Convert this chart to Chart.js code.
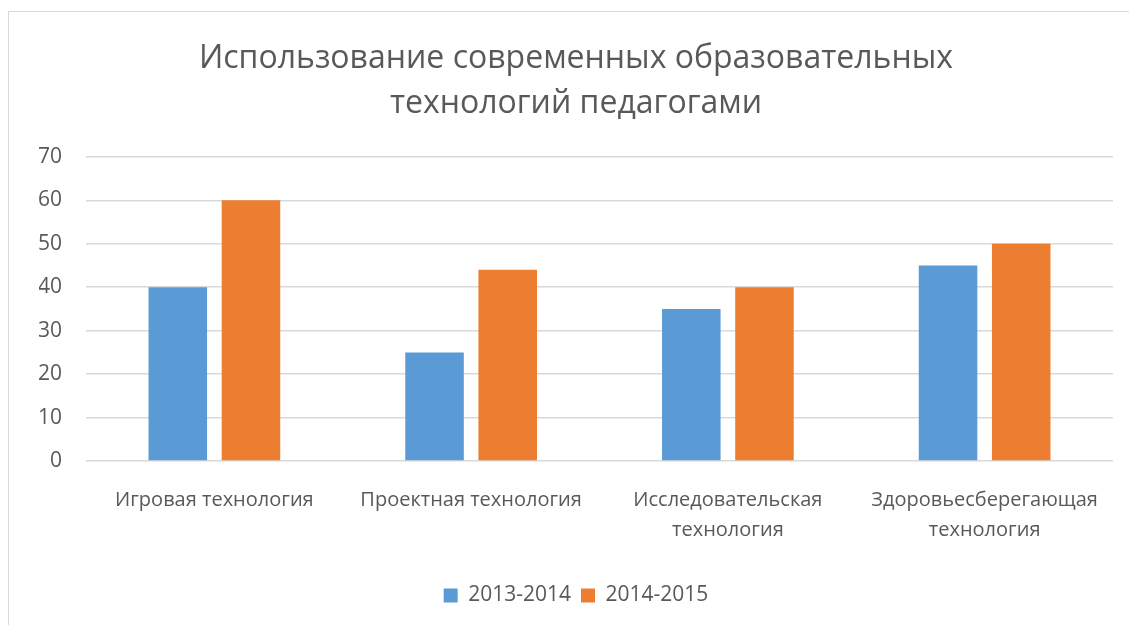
<!DOCTYPE html>
<html>
<head>
<meta charset="utf-8">
<script src="https://cdn.jsdelivr.net/npm/chart.js@4"></script>
<style>
    html, body { margin: 0; padding: 0; background: #fff; }
    #frame {
        position: absolute; left: 8px; top: 11px; width: 1200px; height: 700px;
        border: 1px solid #d9d9d9; box-sizing: border-box;
    }
    #wrap { position: absolute; left: 0; top: 0; width: 1129px; height: 625px; }
</style>
</head>
<body>
<div id="frame"></div>
<div id="wrap"><canvas id="techChart" width="1129" height="625"></canvas></div>
<script>
const categories = [
    'Игровая технология',
    'Проектная технология',
    ['Исследовательская', 'технология'],
    ['Здоровьесберегающая', 'технология']
];
const seriesNames = ['2013-2014', '2014-2015'];
const values2013 = [40, 25, 35, 45];
const values2014 = [60, 44, 40, 50];
const yTicks = [0, 10, 20, 30, 40, 50, 60, 70];

const textColor = '#595959';
const fontFamily = '"Open Sans", "DejaVu Sans", sans-serif';

const ctx = document.getElementById('techChart').getContext('2d');
new Chart(ctx, {
    type: 'bar',
    data: {
        labels: categories,
        datasets: [
            {
                label: seriesNames[0],
                data: values2013,
                backgroundColor: '#5b9bd5',
                categoryPercentage: 0.57,
                barPercentage: 0.8
            },
            {
                label: seriesNames[1],
                data: values2014,
                backgroundColor: '#ed7d31',
                categoryPercentage: 0.57,
                barPercentage: 0.8
            }
        ]
    },
    options: {
        responsive: false,
        animation: false,
        layout: { padding: { left: 39, right: 16, top: 36, bottom: 9 } },
        plugins: {
            title: {
                display: true,
                text: ['Использование современных образовательных', 'технологий педагогами'],
                color: textColor,
                font: { family: fontFamily, size: 32, weight: 'normal', lineHeight: 1.42 },
                padding: { top: 0, bottom: 30 }
            },
            legend: {
                position: 'bottom',
                labels: {
                    color: textColor,
                    font: { family: fontFamily, size: 21 },
                    boxWidth: 14,
                    boxHeight: 14,
                    padding: 10
                }
            },
            tooltip: { enabled: false }
        },
        scales: {
            x: {
                grid: { display: false },
                border: { display: false },
                afterFit: (axis) => { axis.height = 114; },
                ticks: {
                    color: textColor,
                    font: { family: fontFamily, size: 20, lineHeight: 1.5 },
                    padding: 16,
                    maxRotation: 0
                }
            },
            y: {
                min: 0,
                max: 70,
                afterBuildTicks: (axis) => { axis.ticks = yTicks.map(v => ({ value: v })); },
                afterFit: (axis) => { axis.width = 47; },
                grid: { color: '#d9d9d9', lineWidth: 1.5, drawTicks: false },
                border: { display: false },
                ticks: {
                    color: textColor,
                    font: { family: fontFamily, size: 21 },
                    padding: 24
                }
            }
        }
    }
});
</script>
</body>
</html>
